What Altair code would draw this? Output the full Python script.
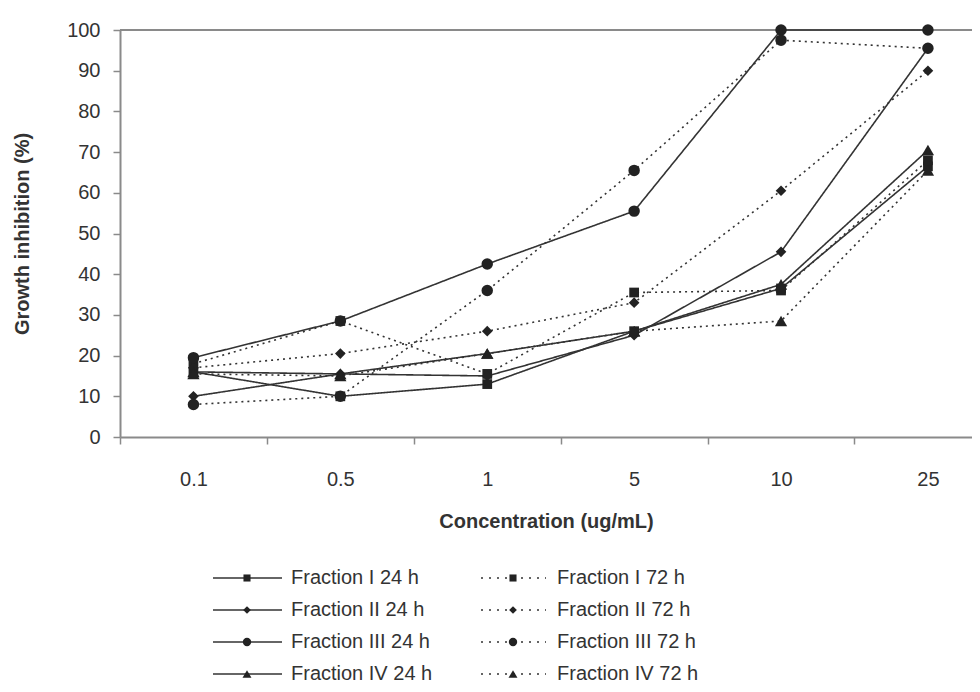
import json
import altair as alt
import pandas as pd

# ---- data ----
conc_labels = ["0.1", "0.5", "1", "5", "10", "25"]
fractions = ["Fraction I", "Fraction II", "Fraction III", "Fraction IV"]
times = ["24 h", "72 h"]

frac_I_24 = [16, 10, 13, 26, 36.5, 66.5]
frac_I_72 = [18, 28.5, 15.5, 35.5, 36, 68]
frac_II_24 = [10, 15.5, 15, 25, 45.5, 95.5]
frac_II_72 = [17, 20.5, 26, 33, 60.5, 90]
frac_III_24 = [19.5, 28.5, 42.5, 55.5, 100, 100]
frac_III_72 = [8, 10, 36, 65.5, 97.5, 95.5]
frac_IV_24 = [16, 15.5, 20.5, 26, 37.5, 70.5]
frac_IV_72 = [15.5, 15, 20.5, 26, 28.5, 65.5]

series = {
    ("Fraction I", "24 h"): frac_I_24,
    ("Fraction I", "72 h"): frac_I_72,
    ("Fraction II", "24 h"): frac_II_24,
    ("Fraction II", "72 h"): frac_II_72,
    ("Fraction III", "24 h"): frac_III_24,
    ("Fraction III", "72 h"): frac_III_72,
    ("Fraction IV", "24 h"): frac_IV_24,
    ("Fraction IV", "72 h"): frac_IV_72,
}

rows = []
for (frac, t), vals in series.items():
    for i, v in enumerate(vals):
        rows.append({"frac": frac, "time": t, "series": f"{frac} {t}",
                     "xi": i, "conc": conc_labels[i], "value": v})
df = pd.DataFrame(rows)

leg_rows = []
for ci, t in enumerate(times):
    for ri, frac in enumerate(fractions):
        leg_rows.append({"col": ci, "row": ri, "frac": frac, "time": t,
                         "label": f"{frac} {t}"})
df_leg = pd.DataFrame(leg_rows)

# ---- styling ----
FONT = "Liberation Sans"
AXIS_GRAY = "#8a8a8a"
LINE_COL = "#333333"
MARK_COL = "#222222"

x_domain = [-0.5, 5.3]
xscale = alt.Scale(domain=x_domain, nice=False, zero=False)
yscale = alt.Scale(domain=[0, 100], nice=False)

tick_vals = [k * 0.5 - 0.5 for k in range(12)]
label_expr = ("datum.value % 1 === 0 ? " + json.dumps(conc_labels) +
              "[datum.value] : ''")

x_axis = alt.Axis(
    values=tick_vals, labelExpr=label_expr, title="Concentration (ug/mL)",
    tickOpacity={"condition": {"test": "datum.value % 1 === 0", "value": 0}, "value": 1},
    tickSize=7, tickColor=AXIS_GRAY, tickWidth=1.5,
    domainColor=AXIS_GRAY, domainWidth=2, grid=False,
    labelFont=FONT, labelFontSize=20, labelColor="#333333", labelPadding=25,
    labelOverlap=False, labelFlush=False,
    titleFont=FONT, titleFontSize=20, titleFontWeight="bold", titleColor="#333333",
    titlePadding=22,
)
y_axis = alt.Axis(
    values=list(range(0, 101, 10)), title="Growth inhibition (%)",
    tickSize=7, tickColor=AXIS_GRAY, tickWidth=1.5,
    domainColor=AXIS_GRAY, domainWidth=2, grid=False,
    labelFont=FONT, labelFontSize=20, labelColor="#333333", labelPadding=13,
    titleFont=FONT, titleFontSize=20, titleFontWeight="bold", titleColor="#333333",
    titlePadding=34,
)

dash_scale = alt.Scale(domain=times, range=[[1, 0], [2, 4]])
shape_scale = alt.Scale(domain=fractions,
                        range=["square", "diamond", "circle", "triangle-up"])
size_main = alt.Scale(domain=fractions, range=[95, 150, 100, 120])
size_leg = alt.Scale(domain=fractions, range=[50, 80, 55, 65])

top_rule = alt.Chart(df).mark_rule(color=AXIS_GRAY, strokeWidth=2).encode(
    x=alt.datum(x_domain[0], scale=xscale),
    x2=alt.datum(x_domain[1]),
    y=alt.datum(100, scale=yscale),
)

lines = alt.Chart(df).mark_line(color=LINE_COL, strokeWidth=1.6).encode(
    x=alt.X("xi:Q", scale=xscale, axis=x_axis),
    y=alt.Y("value:Q", scale=yscale, axis=y_axis),
    detail="series:N",
    strokeDash=alt.StrokeDash("time:N", scale=dash_scale, legend=None),
    order="xi:Q",
)

points = alt.Chart(df).mark_point(filled=True, color=MARK_COL, opacity=1).encode(
    x=alt.X("xi:Q", scale=xscale),
    y=alt.Y("value:Q", scale=yscale),
    shape=alt.Shape("frac:N", scale=shape_scale, legend=None),
    size=alt.Size("frac:N", scale=size_main, legend=None),
)

main = alt.layer(top_rule, lines, points)

# ---- legend (own scales, placed below the plot) ----
leg_x = alt.Scale(domain=[0, 1], range=[127, 393])
leg_y = alt.Scale(domain=[0, 3], range=[548, 644])

leg_solid = alt.Chart(df_leg).transform_filter(
    alt.datum.time == times[0]
).mark_rule(color=LINE_COL, strokeWidth=1.5, xOffset=-34, x2Offset=35).encode(
    x=alt.X("col:Q", scale=leg_x, axis=None),
    x2="col:Q",
    y=alt.Y("row:Q", scale=leg_y, axis=None),
)
leg_dotted = alt.Chart(df_leg).transform_filter(
    alt.datum.time == times[1]
).mark_rule(color=LINE_COL, strokeWidth=1.5, xOffset=-32, x2Offset=33,
            strokeDash=[2, 6]).encode(
    x=alt.X("col:Q", scale=leg_x, axis=None),
    x2="col:Q",
    y=alt.Y("row:Q", scale=leg_y, axis=None),
)
leg_points = alt.Chart(df_leg).mark_point(filled=True, color=MARK_COL, opacity=1).encode(
    x=alt.X("col:Q", scale=leg_x, axis=None),
    y=alt.Y("row:Q", scale=leg_y, axis=None),
    shape=alt.Shape("frac:N", scale=shape_scale, legend=None),
    size=alt.Size("frac:N", scale=size_leg, legend=None),
)
leg_text = alt.Chart(df_leg).mark_text(
    align="left", baseline="middle", dx=44, font=FONT, fontSize=20, color="#333333"
).encode(
    x=alt.X("col:Q", scale=leg_x, axis=None),
    y=alt.Y("row:Q", scale=leg_y, axis=None),
    text="label:N",
)

legend = alt.layer(leg_solid, leg_dotted, leg_points, leg_text)

chart = alt.layer(main, legend).resolve_scale(
    x="independent", y="independent", size="independent"
).properties(
    width=852, height=407,
    autosize=alt.AutoSizeParams(type="none"),
    padding={"left": 112, "top": 22, "right": 0, "bottom": 255},
    background="white",
).configure_view(stroke=None)

chart.save("out.html", embed_options={"renderer": "svg", "actions": False})
